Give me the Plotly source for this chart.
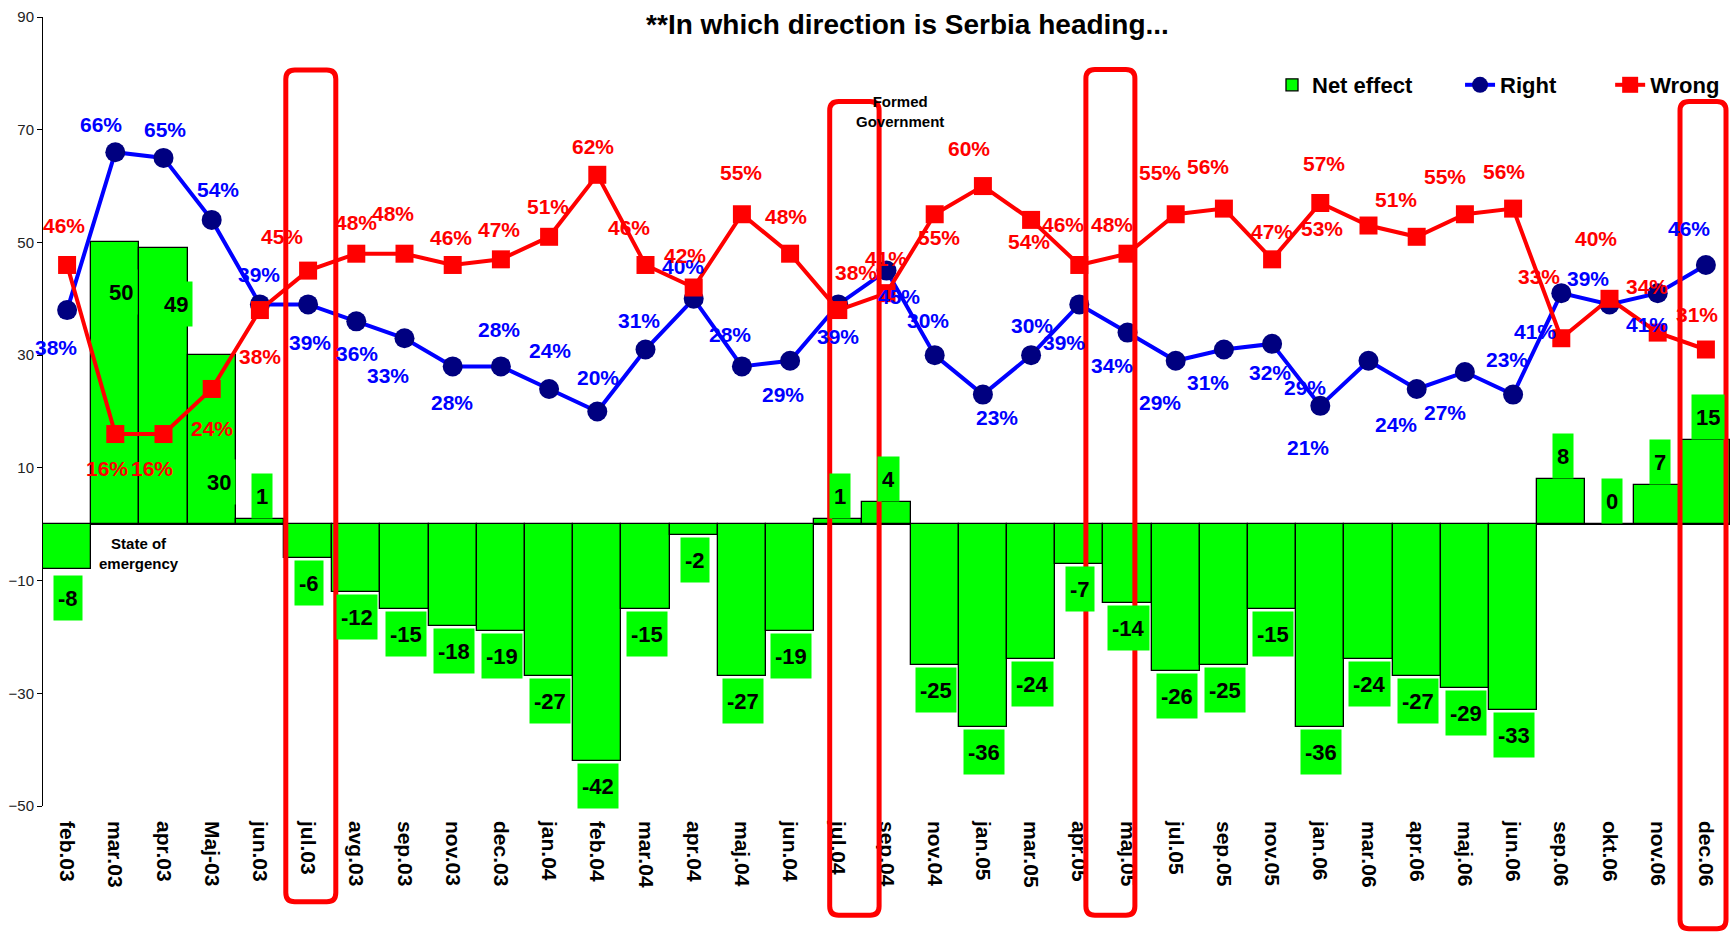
import plotly.graph_objects as go

# ---------------- data ----------------
categories = ["feb.03", "mar.03", "apr.03", "Maj-03", "jun.03", "jul.03", "avg.03", "sep.03",
              "nov.03", "dec.03", "jan.04", "feb.04", "mar.04", "apr.04", "maj.04", "jun.04",
              "jul.04", "sep.04", "nov.04", "jan.05", "mar.05", "apr.05", "maj.05", "jul.05",
              "sep.05", "nov.05", "jan.06", "mar.06", "apr.06", "maj.06", "jun.06", "sep.06",
              "okt.06", "nov.06", "dec.06"]
right = [38, 66, 65, 54, 39, 39, 36, 33, 28, 28, 24, 20, 31, 40, 28, 29, 39, 45, 30, 23,
         30, 39, 34, 29, 31, 32, 21, 29, 24, 27, 23, 41, 39, 41, 46]
wrong = [46, 16, 16, 24, 38, 45, 48, 48, 46, 47, 51, 62, 46, 42, 55, 48, 38, 41, 55, 60,
         54, 46, 48, 55, 56, 47, 57, 53, 51, 55, 56, 33, 40, 34, 31]
net = [-8, 50, 49, 30, 1, -6, -12, -15, -18, -19, -27, -42, -15, -2, -27, -19, 1, 4, -25, -36,
       -24, -7, -14, -26, -25, -15, -36, -24, -27, -29, -33, 8, 0, 7, 15]
y_ticks = [-50, -30, -10, 10, 30, 50, 70, 90]
highlight_cats = ["jul.03", "jul.04", "maj.05", "dec.06"]
title_text = "**In which direction is Serbia heading..."
series_names = ["Net effect", "Right", "Wrong"]

# ---------------- styles / label placement (pixels) ----------------
FONT = "Liberation Sans, Arial, sans-serif"
right_off = [(-11, 37), (-14, -28), (1, -28), (6, -30), (-1, -30), (2, 38), (1, 32), (-17, 37),
             (-1, 36), (-2, -37), (1, -38), (1, -34), (-7, -29), (-11, -32), (-12, -32), (-7, 34),
             (0, 32), (12, 26), (-7, -35), (14, 23), (1, -30), (-15, 38), (-16, 33), (-16, 42),
             (-16, 33), (-2, 29), (-12, 42), (-64, 27), (-21, 36), (-20, 40), (-6, -35), (-26, 38),
             (-22, -26), (-11, 31), (-17, -36)]
wrong_off = [(-3, -39), (-8, 34), (-12, 34), (0, 40), (0, 46), (-26, -34), (0, -31), (-12, -40),
             (-2, -27), (-2, -30), (-1, -30), (-4, -28), (-17, -37), (-9, -32), (-1, -42), (-4, -37),
             (18, -38), (-1, -35), (4, 23), (-14, -38), (-2, 22), (-16, -40), (-16, -29), (-16, -42),
             (-16, -42), (0, -28), (4, -39), (-47, 3), (-21, -37), (-20, -38), (-9, -37), (-22, -62),
             (-14, -60), (-11, -46), (-9, -35)]
bar_special = {1: (6, 50), 2: (12, 56), 3: (7, 127), 0: (1, 29)}   # index -> (dx, dy)

hl_off = [0.056, 0.334, -0.355, -0.06]      # category units
hl_half = [25, 24.7, 24.5, 23]              # px
hl_top = [80.6, 75.0, 80.7, 75.0]           # data y
hl_bot = [-67.0, -69.4, -69.4, -71.8]       # data y

W, H = 1730, 932
ML, MR, MT, MB = 43, 0, 17, 126
PW, PH = W - ML - MR, H - MT - MB
YMIN, YMAX = -50, 90
N = len(categories)
NB = "\u00a0"

fig = go.Figure()
fig.add_trace(go.Bar(x=categories, y=net, name=series_names[0] + NB * 7, width=1,
                     marker=dict(color="#00FF00", line=dict(color="black", width=1.3))))
fig.add_trace(go.Scatter(x=categories, y=right, name=series_names[1] + NB * 8, mode="lines+markers",
                         line=dict(color="#0000FF", width=4),
                         marker=dict(symbol="circle", size=20, color="#000080")))
fig.add_trace(go.Scatter(x=categories, y=wrong, name=series_names[2], mode="lines+markers",
                         line=dict(color="#FF0000", width=4),
                         marker=dict(symbol="square", size=18, color="#FF0000")))

ann = []
for i, c in enumerate(categories):
    dx, dy = right_off[i]
    ann.append(dict(x=c, y=right[i], text="<b>%d%%</b>" % right[i], showarrow=False,
                    xshift=dx, yshift=-dy, font=dict(family=FONT, size=21, color="#0000FF")))
    dx, dy = wrong_off[i]
    ann.append(dict(x=c, y=wrong[i], text="<b>%d%%</b>" % wrong[i], showarrow=False,
                    xshift=dx, yshift=-dy, font=dict(family=FONT, size=21, color="#FF0000")))
for i, c in enumerate(categories):
    if i in bar_special:
        dx, dy = bar_special[i]
    elif net[i] >= 0:
        dx, dy = 2, -23
    else:
        dx, dy = 1, 25
    ann.append(dict(x=c, y=net[i], text="<b>%d</b>" % net[i], showarrow=False,
                    xshift=dx, yshift=-dy, bgcolor="#00FF00", borderpad=4, height=36,
                    font=dict(family=FONT, size=22, color="black")))

ann.append(dict(x=1.5, y=-5.2, text="<b>State of<br>emergency</b>", showarrow=False,
                font=dict(family=FONT, size=15, color="black")))
ann.append(dict(x=17.28, y=73.2, text="<b>Formed<br>Government</b>", showarrow=False,
                font=dict(family=FONT, size=15, color="black")))

shapes = []
rx, ry = 9 / PW, 9 / PH
for k, c in enumerate(highlight_cats):
    idx = categories.index(c)
    xc = (idx + 0.5 + hl_off[k]) / N
    hw = hl_half[k] / PW
    x0, x1 = xc - hw, xc + hw
    y1 = (hl_top[k] - YMIN) / (YMAX - YMIN)
    y0 = (hl_bot[k] - YMIN) / (YMAX - YMIN)
    p = (f"M{x0+rx},{y1} L{x1-rx},{y1} Q{x1},{y1} {x1},{y1-ry} L{x1},{y0+ry} "
         f"Q{x1},{y0} {x1-rx},{y0} L{x0+rx},{y0} Q{x0},{y0} {x0},{y0+ry} "
         f"L{x0},{y1-ry} Q{x0},{y1} {x0+rx},{y1} Z")
    shapes.append(dict(type="path", path=p, xref="paper", yref="paper",
                       line=dict(color="#FF0000", width=5), layer="above"))

fig.update_layout(
    width=W, height=H,
    margin=dict(l=ML, r=MR, t=MT, b=MB, pad=0),
    paper_bgcolor="white", plot_bgcolor="white",
    font=dict(family=FONT, color="black"),
    title=dict(text="<b>" + title_text + "</b>", x=907.5 / W, xref="container", xanchor="center",
               y=1 - 24.5 / H, yref="container", yanchor="middle",
               font=dict(family=FONT, size=28, color="black")),
    bargap=0,
    showlegend=True,
    legend=dict(orientation="h", x=(1725 - ML) / PW, xanchor="right",
                y=(H - MB - 85) / PH, yanchor="middle", bgcolor="rgba(0,0,0,0)",
                font=dict(family=FONT, size=22, color="black", weight="bold"),
                traceorder="normal"),
    xaxis=dict(type="category", range=[-0.5, N - 0.5], showgrid=False, showline=False,
               ticks="", tickangle=90, ticklabelstandoff=14,
               tickfont=dict(family=FONT, size=21, color="black", weight="bold"),
               zeroline=False, fixedrange=True),
    yaxis=dict(range=[YMIN, YMAX], tickvals=y_ticks, showgrid=False, showline=True,
               linecolor="black", linewidth=1, ticks="outside", ticklen=5, tickcolor="black",
               zeroline=True, zerolinecolor="black", zerolinewidth=2,
               tickfont=dict(family=FONT, size=15, color="#222222")),
    annotations=ann,
    shapes=shapes,
)

fig.write_html("out.html", config={"displayModeBar": False},
               post_script="document.body.style.margin='0px';document.body.style.overflow='hidden';")
